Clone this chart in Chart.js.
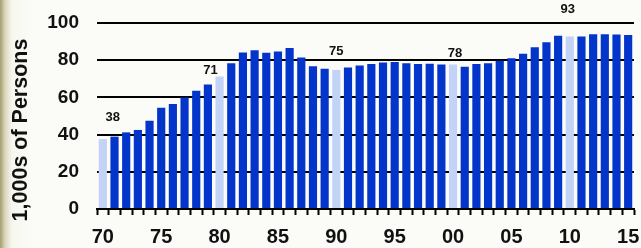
<!DOCTYPE html>
<html>
<head>
<meta charset="utf-8">
<script src="https://cdn.jsdelivr.net/npm/chart.js@4/dist/chart.umd.min.js"></script>
<style>
  html, body { margin: 0; padding: 0; }
  body {
    width: 641px; height: 248px; overflow: hidden;
    background: linear-gradient(to right, #a39d6c 0px, #d9d6bd 5px, #f7f7ef 12px, #fbfbf7 30px);
  }
  #wrap { width: 641px; height: 248px; }
</style>
</head>
<body>
<div id="wrap"><canvas id="myChart" width="641" height="248"></canvas></div>
<script>
// years 1970 - 2015, shown as two digits
const years = ['70','71','72','73','74','75','76','77','78','79',
               '80','81','82','83','84','85','86','87','88','89',
               '90','91','92','93','94','95','96','97','98','99',
               '00','01','02','03','04','05','06','07','08','09',
               '10','11','12','13','14','15'];

// thousands of persons
const persons = [37.6, 38.9, 41.2, 42.5, 47.5, 54.5, 56.5, 60.0, 63.6, 67.0,
                 71.3, 78.4, 84.2, 85.3, 84.0, 84.7, 86.5, 81.5, 76.8, 75.4,
                 74.7, 76.1, 77.2, 77.9, 78.8, 79.0, 78.4, 77.9, 78.1, 77.7,
                 77.7, 76.5, 77.9, 78.4, 79.7, 81.1, 83.5, 87.0, 89.7, 93.1,
                 92.8, 92.8, 94.0, 94.0, 93.8, 93.6];

// census years get the light colour and a value label
const labeledYears = ['70', '80', '90', '00', '10'];
const yTicks = [0, 20, 40, 60, 80, 100];
const yTitle = '1,000s of Persons';

const darkBlue = '#0335cb';
const lightBlue = '#c3d2f7';
const barColors = years.map(y => labeledYears.includes(y) ? lightBlue : darkBlue);

// draws the rounded value over each census-year bar
const valueLabels = {
  id: 'valueLabels',
  afterDatasetsDraw(chart, args, opts) {
    const ctx = chart.ctx;
    const meta = chart.getDatasetMeta(0);
    ctx.save();
    ctx.font = 'bold 13px "Liberation Sans", Arial, sans-serif';
    ctx.fillStyle = '#111';
    ctx.textAlign = 'center';
    ctx.textBaseline = 'middle';
    labeledYears.forEach((y, k) => {
      const i = years.indexOf(y);
      const bar = meta.data[i];
      const off = opts.offsets[k];
      ctx.fillText(String(Math.round(persons[i])), bar.x + off[0], bar.y + off[1]);
    });
    ctx.restore();
  }
};

// rotated axis title, sitting a little lower than the axis middle
const sideTitle = {
  id: 'sideTitle',
  afterDraw(chart, args, opts) {
    const ctx = chart.ctx;
    ctx.save();
    ctx.translate(opts.x, opts.y);
    ctx.rotate(-Math.PI / 2);
    ctx.font = 'bold 21.5px "Liberation Sans", Arial, sans-serif';
    ctx.fillStyle = '#111';
    ctx.textAlign = 'center';
    ctx.textBaseline = 'middle';
    ctx.fillText(yTitle, 0, 0);
    ctx.restore();
  }
};

const ctx = document.getElementById('myChart').getContext('2d');
const chart = new Chart(ctx, {
  type: 'bar',
  data: {
    labels: years,
    datasets: [{
      data: persons,
      backgroundColor: barColors,
      borderWidth: 0,
      categoryPercentage: 1.0,
      barPercentage: 0.7
    }]
  },
  options: {
    responsive: false,
    animation: false,
    layout: { padding: { top: 23, right: 7, left: 0, bottom: 0 } },
    plugins: {
      legend: { display: false },
      tooltip: { enabled: false },
      valueLabels: {
        offsets: [[10, -22], [-9, -6], [0, -19], [2, -11], [-2, -27]]
      },
      sideTitle: { x: 21, y: 130 }
    },
    scales: {
      x: {
        offset: true,
        afterFit: scale => {
          scale.height = 39;
          scale.paddingLeft = 0;
          scale.paddingRight = 0;
        },
        grid: {
          offset: true,
          drawOnChartArea: false,
          drawTicks: true,
          tickLength: 6,
          tickWidth: 2,
          tickColor: '#000'
        },
        border: { display: true, color: '#000', width: 2 },
        ticks: {
          autoSkip: false,
          maxRotation: 0,
          padding: 12,
          color: '#111',
          font: { family: '"Liberation Sans", Arial, sans-serif', size: 20, weight: 'bold', lineHeight: 1 },
          callback: function (val, idx) { return idx % 5 === 0 ? years[idx] : ''; }
        }
      },
      y: {
        min: 0,
        max: 100,
        afterFit: scale => {
          scale.width = 97;
          scale.paddingTop = 0;
          scale.paddingBottom = 0;
        },
        afterBuildTicks: axis => { axis.ticks = yTicks.map(v => ({ value: v })); },
        grid: { color: '#000', lineWidth: 2, drawTicks: false },
        border: { display: false },
        ticks: {
          padding: 18,
          color: '#111',
          font: { family: '"Liberation Sans", Arial, sans-serif', size: 19, weight: 'bold' }
        }
      }
    }
  },
  plugins: [valueLabels, sideTitle]
});
</script>
</body>
</html>
